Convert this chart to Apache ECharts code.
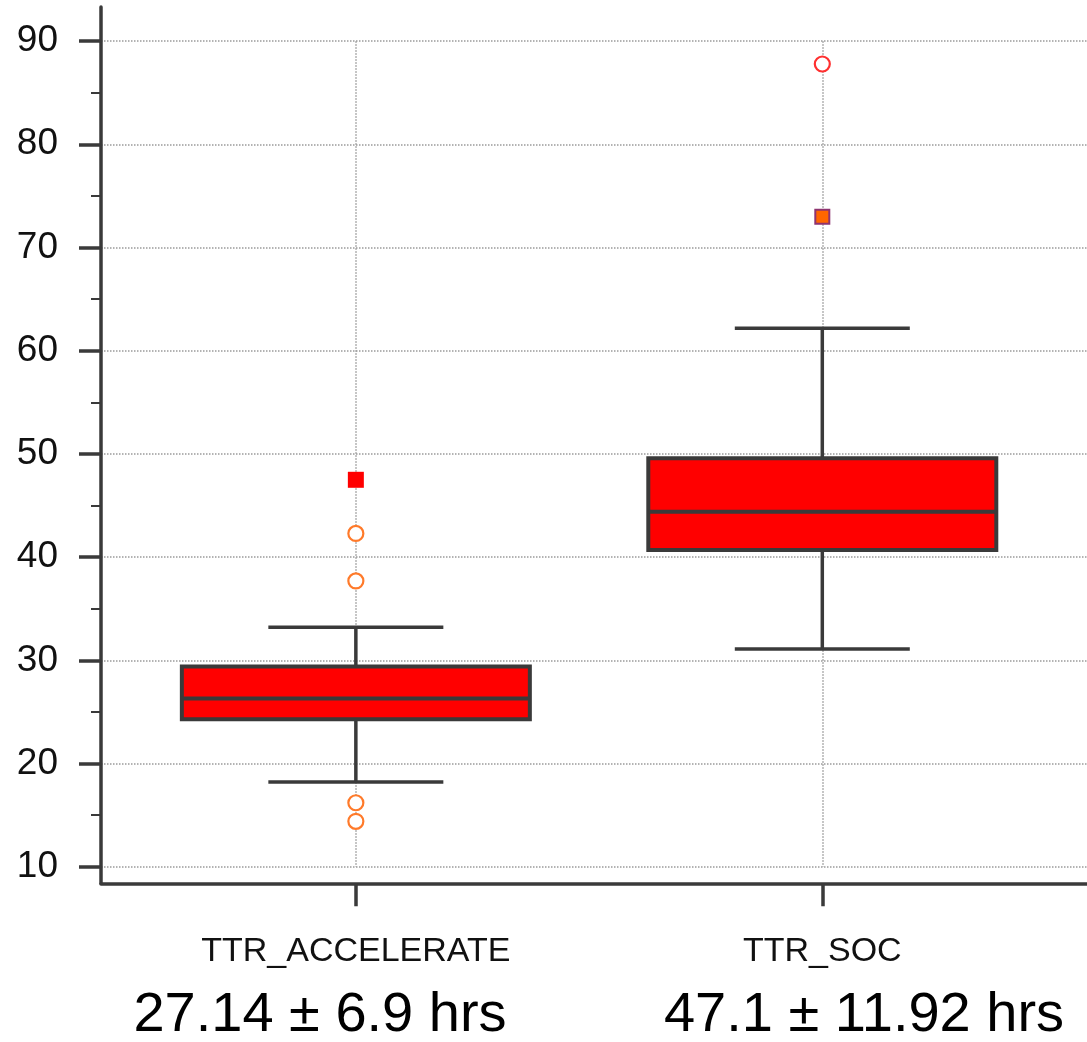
<!DOCTYPE html>
<html>
<head>
<meta charset="utf-8">
<title>TTR boxplot</title>
<script src="https://cdn.jsdelivr.net/npm/echarts@6/dist/echarts.min.js"></script>
<style>
html, body { margin: 0; padding: 0; background: #fff; }
#main { width: 1087px; height: 1042px; }
</style>
</head>
<body>
<div id="main"></div>
<script>
var categories = ['TTR_ACCELERATE', 'TTR_SOC'];
var whiskerLow = [18.2, 31.1];
var q1 = [24.3, 40.7];
var median = [26.3, 44.4];
var q3 = [29.4, 49.6];
var whiskerHigh = [33.2, 62.2];
var yTicks = [10, 20, 30, 40, 50, 60, 70, 80, 90];
// outliers as [category index, value]
var filledSquares = [[0, 47.5]];
var orangeCircles = [[0, 42.3], [0, 37.7], [0, 16.2], [0, 14.4]];
var redCircles = [[1, 87.8]];
var orangeSquares = [[1, 73.0]];
var summaries = ['27.14 ± 6.9 hrs', '47.1 ± 11.92 hrs'];

var dom = document.getElementById('main');
var myChart = echarts.init(dom);

var axisColor = '#3a3a3a';
var gridLine = { color: '#9a9a9a', width: 1.5, type: [1.5, 1.5] };
var font = 'Liberation Sans';

var boxData = categories.map(function (c, i) {
    return [i, whiskerLow[i], q1[i], median[i], q3[i], whiskerHigh[i]];
});

function lineStyle(w) {
    return { stroke: axisColor, lineWidth: w };
}

function renderBox(params, api) {
    var x = api.value(0);
    var lo = api.coord([x, api.value(1)]);
    var bot = api.coord([x, api.value(2)]);
    var mid = api.coord([x, api.value(3)]);
    var top = api.coord([x, api.value(4)]);
    var hi = api.coord([x, api.value(5)]);
    var cx = lo[0];
    var half = 174, cap = 87.5;
    return {
        type: 'group',
        children: [
            { type: 'line', shape: { x1: cx, y1: hi[1], x2: cx, y2: top[1] }, style: lineStyle(3.5) },
            { type: 'line', shape: { x1: cx, y1: bot[1], x2: cx, y2: lo[1] }, style: lineStyle(3.5) },
            { type: 'line', shape: { x1: cx - cap, y1: hi[1], x2: cx + cap, y2: hi[1] }, style: lineStyle(3.5) },
            { type: 'line', shape: { x1: cx - cap, y1: lo[1], x2: cx + cap, y2: lo[1] }, style: lineStyle(3.5) },
            { type: 'rect', shape: { x: cx - half, y: top[1], width: 2 * half, height: bot[1] - top[1] },
              style: { fill: '#ff0000', stroke: axisColor, lineWidth: 4 } },
            { type: 'line', shape: { x1: cx - half, y1: mid[1], x2: cx + half, y2: mid[1] }, style: lineStyle(4) }
        ]
    };
}

var option = {
    animation: false,
    grid: [
        { left: 101, right: 0, top: 7, bottom: 158.7 },
        { left: 355.85, right: 264.7, top: 41.3, bottom: 175.3 }
    ],
    xAxis: [
        {
            gridIndex: 0, type: 'value', min: 0, max: 1,
            axisLine: { show: true, lineStyle: { color: axisColor, width: 3.5 } },
            axisTick: { show: false }, axisLabel: { show: false }, splitLine: { show: false }
        },
        {
            gridIndex: 1, type: 'category', data: categories, boundaryGap: false,
            offset: 16.6,
            axisLine: { show: false },
            axisTick: { show: true, length: 23, lineStyle: { color: axisColor, width: 3.5 } },
            axisLabel: { show: true, interval: 0, fontSize: 34, fontFamily: font, color: '#111', margin: 51 },
            splitLine: { show: true, lineStyle: gridLine }
        }
    ],
    yAxis: [
        {
            gridIndex: 0, type: 'value', min: 8.4, max: 93.3,
            minInterval: 10, maxInterval: 10, splitNumber: 8,
            axisLine: { show: true, lineStyle: { color: axisColor, width: 3.5 } },
            axisTick: { show: true, customValues: yTicks, length: 22, lineStyle: { color: axisColor, width: 3.5 } },
            minorTick: { show: true, splitNumber: 2, length: 10, lineStyle: { color: axisColor, width: 2 } },
            axisLabel: { show: true, customValues: yTicks, fontSize: 37, fontFamily: font, color: '#111', margin: 43 },
            splitLine: { show: true, lineStyle: gridLine }
        },
        {
            gridIndex: 1, type: 'value', min: 10, max: 90, show: false,
            splitLine: { show: false }
        }
    ],
    graphic: [
        { type: 'text', x: 320, y: 1016, style: { text: summaries[0], font: '56px "Liberation Sans"', fill: '#000', align: 'center', verticalAlign: 'middle' } },
        { type: 'text', x: 864, y: 1016, style: { text: summaries[1], font: '56px "Liberation Sans"', fill: '#000', align: 'center', verticalAlign: 'middle' } }
    ],
    series: [
        {
            type: 'custom', xAxisIndex: 1, yAxisIndex: 1,
            renderItem: renderBox,
            encode: { x: 0, y: [1, 2, 3, 4, 5] },
            data: boxData
        },
        {
            type: 'scatter', xAxisIndex: 1, yAxisIndex: 1,
            symbol: 'rect', symbolSize: 16,
            itemStyle: { color: '#ff0000', opacity: 1 },
            data: filledSquares
        },
        {
            type: 'scatter', xAxisIndex: 1, yAxisIndex: 1,
            symbol: 'circle', symbolSize: 15,
            itemStyle: { color: '#fff', borderColor: '#ff7a2a', borderWidth: 2.2, opacity: 1 },
            data: orangeCircles
        },
        {
            type: 'scatter', xAxisIndex: 1, yAxisIndex: 1,
            symbol: 'circle', symbolSize: 15,
            itemStyle: { color: '#fff', borderColor: '#ff3030', borderWidth: 2.2, opacity: 1 },
            data: redCircles
        },
        {
            type: 'scatter', xAxisIndex: 1, yAxisIndex: 1,
            symbol: 'rect', symbolSize: 14,
            itemStyle: { color: '#ff6600', borderColor: '#8e3470', borderWidth: 2, opacity: 1 },
            data: orangeSquares
        }
    ]
};

if (option && typeof option === 'object') {
    myChart.setOption(option, true);
    window.onresize = function () {
        myChart.resize();
    };
}
</script>
</body>
</html>
